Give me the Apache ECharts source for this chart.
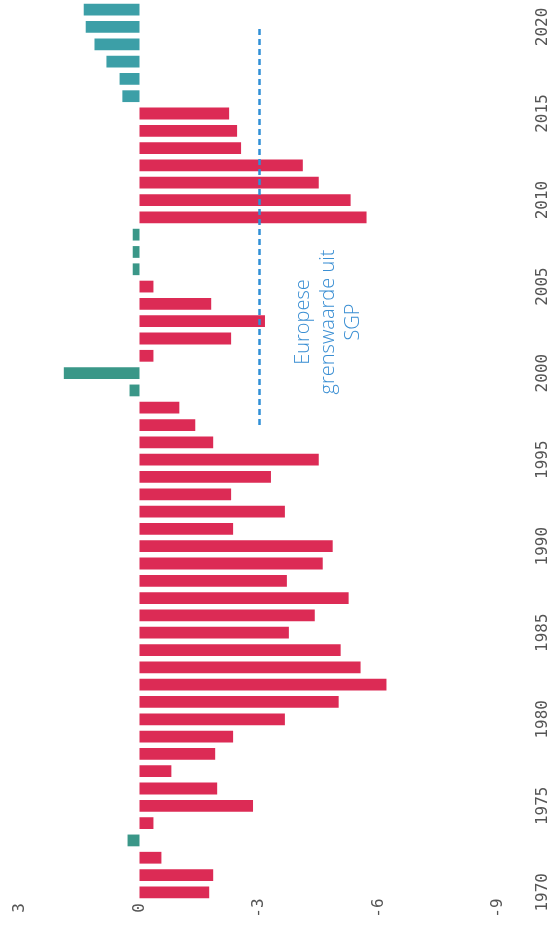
<!DOCTYPE html>
<html>
<head>
<meta charset="utf-8">
<title>EMU-saldo</title>
<script src="https://cdn.jsdelivr.net/npm/echarts@6/dist/echarts.min.js"></script>
<style>
    html, body { margin: 0; padding: 0; background: #fff; }
    #chartmain { width: 555px; height: 951px; }
</style>
</head>
<body>
<div id="chartmain"></div>
<script>
// jaren 1970 - 2021
var years = [];
for (var y = 1970; y <= 2021; y++) {
    years.push(String(y));
}
// saldo in % bbp
var saldo = [
    -1.75, -1.85, -0.55, 0.3, -0.35, -2.85, -1.95, -0.8, -1.9, -2.35,
    -3.65, -5.0, -6.2, -5.55, -5.05, -3.75, -4.4, -5.25, -3.7, -4.6,
    -4.85, -2.35, -3.65, -2.3, -3.3, -4.5, -1.85, -1.4, -1.0, 0.25,
    1.9, -0.35, -2.3, -3.15, -1.8, -0.35, 0.17, 0.17, 0.17, -5.7,
    -5.3, -4.5, -4.1, -2.55, -2.45, -2.25, 0.43, 0.5, 0.83, 1.13,
    1.35, 1.4
];
var valueTicks = [3, 0, -3, -6, -9];
var grensWaarde = -3;
var grensTekst = 'Europese\ngrenswaarde uit\nSGP';

var kleurTekort = '#dc2b55';
var kleurOverschot = '#3a9788';
var kleurOverschotNieuw = '#3c9fa7';

function barColor(params) {
    if (params.value < 0) return kleurTekort;
    return (+params.name >= 2016) ? kleurOverschotNieuw : kleurOverschot;
}

var option = {
    animation: false,
    grid: {
        left: 20,
        right: 57,
        top: 1,
        bottom: 50
    },
    xAxis: {
        type: 'value',
        inverse: true,
        min: -9,
        max: 3,
        interval: 3,
        axisLine: { show: false },
        axisTick: { show: false },
        splitLine: { show: false },
        axisLabel: {
            rotate: 90,
            align: 'center',
            verticalAlign: 'middle',
            margin: 7,
            color: '#555',
            fontSize: 16,
            fontFamily: 'DejaVu Sans Mono',
            formatter: function (v) {
                return valueTicks.indexOf(v) >= 0 ? String(v) : '';
            }
        }
    },
    yAxis: {
        type: 'category',
        data: years,
        position: 'right',
        axisLine: { show: false, onZero: false },
        axisTick: { show: false },
        axisLabel: {
            rotate: 90,
            align: 'center',
            verticalAlign: 'middle',
            margin: 45,
            color: '#555',
            fontSize: 16,
            fontFamily: 'DejaVu Sans Mono',
            interval: function (idx, val) {
                return (+val) % 5 === 0;
            }
        }
    },
    series: [
        {
            type: 'bar',
            data: saldo,
            barCategoryGap: '32%',
            itemStyle: {
                color: barColor
            },
            markLine: {
                silent: true,
                symbol: 'none',
                label: { show: false },
                lineStyle: {
                    color: '#2f8fd6',
                    width: 2.5,
                    type: [6, 4]
                },
                data: [
                    [{ coord: [grensWaarde, '1997'] }, { coord: [grensWaarde, '2020'] }]
                ]
            }
        }
    ],
    graphic: [
        {
            type: 'text',
            x: 328,
            y: 322,
            rotation: Math.PI / 2,
            style: {
                text: grensTekst,
                fill: '#3b8fd3',
                font: '300 20px "Open Sans"',
                lineHeight: 25,
                textAlign: 'center',
                textVerticalAlign: 'middle',
                align: 'center',
                verticalAlign: 'middle'
            }
        }
    ]
};

var myChart = echarts.init(document.getElementById('chartmain'));
myChart.setOption(option);
</script>
</body>
</html>
